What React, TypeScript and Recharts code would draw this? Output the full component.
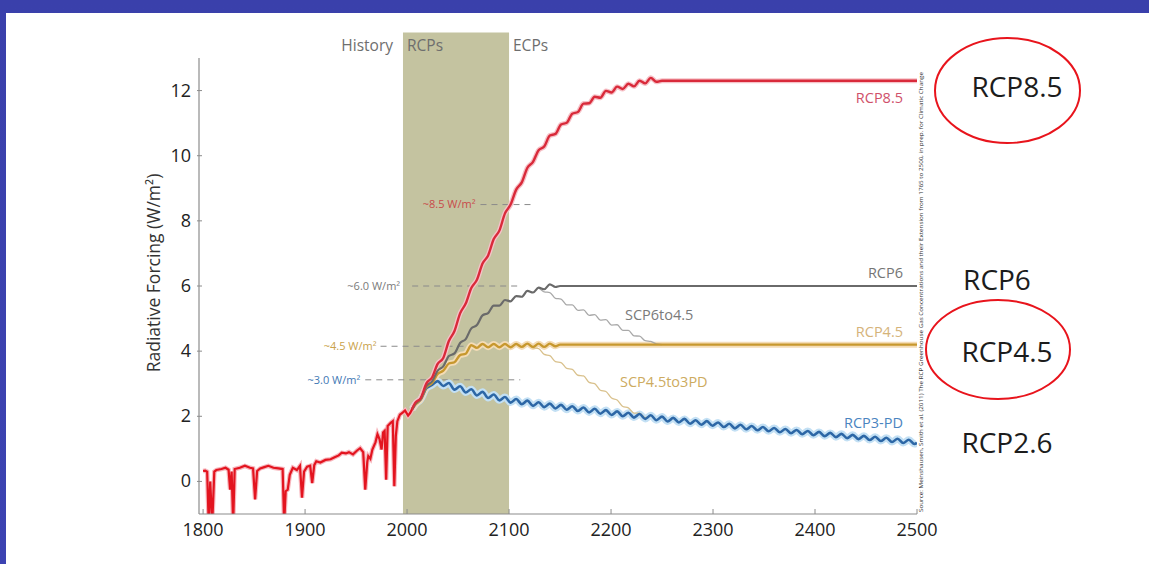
import React from "react";
import { LineChart, Line, XAxis, YAxis, ReferenceArea, ReferenceLine } from "recharts";

const X_TICKS = [1800, 1900, 2000, 2100, 2200, 2300, 2400, 2500];
const Y_TICKS = [0, 2, 4, 6, 8, 10, 12];

// historical forcing (volcanic dips)
const HIST_YEARS = [
  1800, 1802, 1804, 1805.5, 1807, 1809, 1811, 1813, 1818, 1822, 1825, 1826.5, 1828, 1829.5, 1831,
  1836, 1841, 1846, 1849, 1851, 1853, 1856, 1860, 1864, 1869, 1874, 1878, 1879.5, 1881, 1883,
  1885, 1888, 1892, 1895, 1897, 1899, 1902, 1905, 1907, 1909, 1911, 1915, 1920, 1925, 1929,
  1933, 1936, 1940, 1943, 1947, 1951, 1954, 1957, 1959, 1961, 1962, 1964, 1966, 1969, 1971,
  1973, 1975, 1976.5, 1978, 1979.5, 1981, 1984, 1986, 1987.5, 1989, 1990.5, 1993, 1996, 1998,
  2001, 2003, 2005,
];
const HIST_VALUES = [
  0.32, 0.33, 0.3, -1.3, 0.0, -1.3, 0.3, 0.35, 0.38, 0.42, 0.36, -0.25, 0.3, -1.3, 0.38,
  0.42, 0.48, 0.42, 0.4, -0.55, 0.32, 0.4, 0.44, 0.48, 0.42, 0.4, 0.38, -1.3, -0.3, -0.25,
  0.2, 0.42, 0.35, 0.48, -0.5, 0.3, 0.45, 0.48, -0.05, 0.5, 0.62, 0.58, 0.66, 0.68, 0.74,
  0.8, 0.88, 0.86, 0.9, 0.83, 0.95, 1.02, 0.9, -0.25, 0.6, 0.78, 0.7, 0.98, 1.2, 1.45,
  1.3, 0.98, 1.5, 1.55, 0.05, 1.7, 1.8, 1.85, -0.15, 1.4, 1.85, 2.05, 2.12, 2.18,
  2.02, 2.1, 2.22,
];

// half solar-cycle sample years used by the scenario curves
const CYCLE_YEARS = [
  2008, 2013.5, 2019, 2024.5, 2030, 2035.5, 2041, 2046.5, 2052, 2057.5,
  2063, 2068.5, 2074, 2079.5, 2085, 2090.5, 2096, 2101.5, 2107, 2112.5,
  2118, 2123.5, 2129, 2134.5, 2140, 2145.5, 2151, 2156.5, 2162, 2167.5,
  2173, 2178.5, 2184, 2189.5, 2195, 2200.5, 2206, 2211.5, 2217, 2222.5,
  2228, 2233.5, 2239, 2244.5, 2250, 2255.5, 2261, 2266.5, 2272, 2277.5,
  2283, 2288.5, 2294, 2299.5, 2305, 2310.5, 2316, 2321.5, 2327, 2332.5,
  2338, 2343.5, 2349, 2354.5, 2360, 2365.5, 2371, 2376.5, 2382, 2387.5,
  2393, 2398.5, 2404, 2409.5, 2415, 2420.5, 2426, 2431.5, 2437, 2442.5,
  2448, 2453.5, 2459, 2464.5, 2470, 2475.5, 2481, 2486.5, 2492, 2497.5,
];

const RCP85_YEARS = [2005, ...CYCLE_YEARS.slice(0, 45), 2500];
const RCP85_VALUES = [
  2.22,
  2.41, 2.56, 3.01, 3.19, 3.61, 3.79, 4.31, 4.62, 5.16, 5.46,
  5.94, 6.19, 6.69, 6.94, 7.44, 7.7, 8.23, 8.5, 8.96, 9.18,
  9.63, 9.81, 10.17, 10.28, 10.62, 10.67, 10.96, 11.01, 11.29, 11.34,
  11.6, 11.61, 11.81, 11.78, 11.99, 11.94, 12.12, 12.05, 12.21, 12.13,
  12.3, 12.22, 12.39, 12.27, 12.3,
  12.3,
];

const RCP6_YEARS = [2005, ...CYCLE_YEARS.slice(0, 26), 2150, 2500];
const RCP6_VALUES = [
  2.22,
  2.38, 2.55, 2.93, 3.07, 3.4, 3.53, 3.85, 3.93, 4.25, 4.37,
  4.7, 4.8, 5.1, 5.17, 5.4, 5.4, 5.57, 5.53, 5.69, 5.67,
  5.85, 5.8, 5.95, 5.9, 6.05, 5.97,
  6.0, 6.0,
];

const RCP45_YEARS = [2005, ...CYCLE_YEARS.slice(0, 26), 2150, 2500];
const RCP45_VALUES = [
  2.22,
  2.36, 2.53, 2.9, 3.02, 3.3, 3.4, 3.62, 3.66, 3.88, 3.92,
  4.18, 4.1, 4.22, 4.12, 4.22, 4.12, 4.22, 4.12, 4.22, 4.13,
  4.23, 4.13, 4.23, 4.13, 4.23, 4.15,
  4.2, 4.2,
];

const RCP3PD_YEARS = [2005, ...CYCLE_YEARS, 2500];
const RCP3PD_VALUES = [
  2.22,
  2.36, 2.52, 2.86, 2.96, 3.08,
  2.93, 3.02, 2.82, 2.92, 2.73, 2.83, 2.64, 2.75, 2.56, 2.67,
  2.49, 2.59, 2.42, 2.53, 2.37, 2.48, 2.32, 2.43, 2.28, 2.39,
  2.24, 2.35, 2.2, 2.31, 2.16, 2.27, 2.12, 2.23, 2.08, 2.19,
  2.04, 2.15, 2.0, 2.11, 1.96, 2.07, 1.92, 2.03, 1.88, 1.99,
  1.84, 1.95, 1.81, 1.92, 1.77, 1.88, 1.74, 1.85, 1.71,
  1.81, 1.67, 1.77, 1.63, 1.74, 1.6, 1.7, 1.57, 1.67, 1.54,
  1.64, 1.51, 1.61, 1.48, 1.58, 1.45, 1.55, 1.42, 1.52, 1.39,
  1.49, 1.36, 1.46, 1.33, 1.43, 1.3, 1.4, 1.27, 1.37, 1.24,
  1.34, 1.21, 1.31, 1.18, 1.28, 1.15,
  1.18,
];

const SCP6TO45_YEARS = CYCLE_YEARS.slice(22, 45);
const SCP6TO45_VALUES = [
  5.95, 5.82, 5.8, 5.62, 5.6, 5.42, 5.42, 5.25, 5.27, 5.1,
  5.12, 4.95, 4.97, 4.8, 4.81, 4.64, 4.64, 4.47, 4.46, 4.32,
  4.3, 4.22, 4.2,
];

const SCP45TO3PD_YEARS = CYCLE_YEARS.slice(20, 43);
const SCP45TO3PD_VALUES = [
  4.23, 4.1, 4.08, 3.9, 3.86, 3.68, 3.65, 3.47, 3.44, 3.26,
  3.24, 3.04, 3.0, 2.8, 2.76, 2.56, 2.5, 2.3, 2.26, 2.1,
  2.1, 1.96, 2.02,
];

const zip = (years: number[], values: number[]) =>
  years.map((year, i) => ({ year, v: values[i] }));

const hist = zip(HIST_YEARS, HIST_VALUES);
const rcp85 = zip(RCP85_YEARS, RCP85_VALUES);
const rcp6 = zip(RCP6_YEARS, RCP6_VALUES);
const rcp45 = zip(RCP45_YEARS, RCP45_VALUES);
const rcp3pd = zip(RCP3PD_YEARS, RCP3PD_VALUES);
const scp6to45 = zip(SCP6TO45_YEARS, SCP6TO45_VALUES);
const scp45to3pd = zip(SCP45TO3PD_YEARS, SCP45TO3PD_VALUES);

const FONT = "'Open Sans', 'DejaVu Sans', sans-serif";
const FRAME = "#8c8c8c";
const BAND = "#c4c3a0";

function BottomTick({ x, y, payload }: any) {
  const axisY = y - 8;
  return (
    <g>
      <line x1={x} x2={x} y1={axisY} y2={axisY - 5} stroke={FRAME} />
      <text x={x} y={axisY + 22} textAnchor="middle" fontSize={18} fill="#222" fontFamily={FONT}>
        {payload.value}
      </text>
    </g>
  );
}

function TopTick({ x, y }: any) {
  return <line x1={x} x2={x} y1={y} y2={y + 5} stroke={FRAME} />;
}

function LeftTick({ x, y, payload }: any) {
  const axisX = x + 6;
  return (
    <g>
      <line x1={axisX - 2} x2={axisX + 3} y1={y} y2={y} stroke={FRAME} />
      <text x={x - 2} y={y + 6} textAnchor="end" fontSize={18} fill="#222" fontFamily={FONT}>
        {payload.value}
      </text>
    </g>
  );
}

function RightTick({ x, y }: any) {
  return <line x1={x} x2={x - 5} y1={y} y2={y} stroke={FRAME} />;
}

const dash = (y: number, from: number, to: number, label: string, color: string, offset: number) => (
  <ReferenceLine
    segment={[
      { x: from, y },
      { x: to, y },
    ]}
    stroke="#8a8a8a"
    strokeWidth={1}
    strokeDasharray="6 5"
    label={{ value: label, position: "left", fill: color, fontSize: 11, offset, fontFamily: FONT }}
  />
);

export default function App() {
  return (
    <div
      style={{
        position: "absolute",
        left: 0,
        top: 0,
        width: 1149,
        height: 564,
        background: "linear-gradient(180deg, #3a40ab, #3c43b2)",
        overflow: "hidden",
        fontFamily: FONT,
      }}
    >
      <div style={{ position: "absolute", left: 6, top: 13, right: 0, bottom: 0, background: "#fff" }} />
      <div style={{ position: "absolute", left: 0, top: 0 }}>
        <LineChart
          width={1149}
          height={564}
          margin={{ top: 58, right: 232, bottom: 20, left: 139 }}
        >
          <ReferenceArea
            x1={1996}
            x2={2100}
            y1={-1}
            y2={13.78}
            fill={BAND}
            fillOpacity={1}
            stroke="none"
            ifOverflow="visible"
          />
          <XAxis
            dataKey="year"
            type="number"
            domain={[1796, 2500]}
            ticks={X_TICKS}
            interval={0}
            allowDataOverflow
            height={30}
            tickSize={0}
            tickMargin={8}
            tick={<BottomTick />}
            axisLine={{ stroke: FRAME, strokeWidth: 1.2 }}
          />
          <XAxis
            xAxisId="top"
            orientation="top"
            dataKey="year"
            type="number"
            domain={[1796, 2500]}
            ticks={X_TICKS}
            interval={0}
            allowDataOverflow
            height={0}
            tickSize={0}
            tickMargin={0}
            tick={<TopTick />}
            axisLine={{ stroke: FRAME, strokeWidth: 1.2 }}
          />
          <YAxis
            type="number"
            domain={[-1, 13]}
            ticks={Y_TICKS}
            interval={0}
            allowDataOverflow
            width={60}
            tickSize={0}
            tickMargin={6}
            tick={<LeftTick />}
            axisLine={{ stroke: FRAME, strokeWidth: 1.2 }}
          />
          <YAxis
            yAxisId="right"
            orientation="right"
            type="number"
            domain={[-1, 13]}
            ticks={Y_TICKS}
            interval={0}
            allowDataOverflow
            width={0}
            tickSize={0}
            tickMargin={0}
            tick={<RightTick />}
            axisLine={{ stroke: "#444", strokeWidth: 1.2 }}
          />

          {dash(8.5, 2072, 2124, "~8.5 W/m\u00b2", "#c84a4a", 5)}
          {dash(6.0, 2005, 2109, "~6.0 W/m\u00b2", "#7a7a7a", 12)}
          {dash(4.15, 1974, 2059, "~4.5 W/m\u00b2", "#c9a24a", 4)}
          {dash(3.12, 1959, 2111, "~3.0 W/m\u00b2", "#3f78b4", 5)}

          <Line data={rcp3pd} dataKey="v" type="monotone" stroke="#c3e0f4" strokeWidth={7} dot={false} activeDot={false} isAnimationActive={false} />
          <Line data={rcp45} dataKey="v" type="monotone" stroke="#f4dcb6" strokeWidth={6} dot={false} activeDot={false} isAnimationActive={false} />
          <Line data={rcp85} dataKey="v" type="monotone" stroke="#f6c2c8" strokeWidth={5} dot={false} activeDot={false} isAnimationActive={false} />
          <Line data={hist} dataKey="v" type="linear" stroke="#f7b6bd" strokeWidth={4.5} dot={false} activeDot={false} isAnimationActive={false} />

          <Line data={scp6to45} dataKey="v" type="monotone" stroke="#a9a9a9" strokeWidth={1.3} dot={false} activeDot={false} isAnimationActive={false} />
          <Line data={scp45to3pd} dataKey="v" type="monotone" stroke="#d9c18c" strokeWidth={1.3} dot={false} activeDot={false} isAnimationActive={false} />
          <Line data={rcp3pd} dataKey="v" type="monotone" stroke="#2d67a6" strokeWidth={2.6} dot={false} activeDot={false} isAnimationActive={false} />
          <Line data={rcp45} dataKey="v" type="monotone" stroke="#c7982e" strokeWidth={2.4} dot={false} activeDot={false} isAnimationActive={false} />
          <Line data={rcp6} dataKey="v" type="monotone" stroke="#6a6a6a" strokeWidth={2.2} dot={false} activeDot={false} isAnimationActive={false} />
          <Line data={hist} dataKey="v" type="linear" stroke="#e3141f" strokeWidth={2.2} dot={false} activeDot={false} isAnimationActive={false} />
          <Line data={rcp85} dataKey="v" type="monotone" stroke="#d92a3a" strokeWidth={2.4} dot={false} activeDot={false} isAnimationActive={false} />
        </LineChart>
      </div>

      <svg
        width={1149}
        height={564}
        style={{ position: "absolute", left: 0, top: 0, pointerEvents: "none" }}
        fontFamily={FONT}
      >
        <text x={393} y={51} textAnchor="end" fontSize={15.5} fill="#6e6e6e">History</text>
        <text x={407} y={51} fontSize={15.5} fill="#6e6e6e">RCPs</text>
        <text x={513} y={51} fontSize={15.5} fill="#6e6e6e">ECPs</text>

        <text x={155} y={273} transform="rotate(-90 155 273)" textAnchor="middle" dominantBaseline="middle" fontSize={17.5} fill="#333">
          Radiative Forcing (W/m²)
        </text>

        <text x={903} y={103} textAnchor="end" fontSize={14.5} fill="#d0506a">RCP8.5</text>
        <text x={903} y={278} textAnchor="end" fontSize={14.5} fill="#757575">RCP6</text>
        <text x={625} y={320} fontSize={14.5} fill="#7a7a7a">SCP6to4.5</text>
        <text x={903} y={337} textAnchor="end" fontSize={14.5} fill="#d5b37a">RCP4.5</text>
        <text x={620} y={387} fontSize={14.5} fill="#cdab60">SCP4.5to3PD</text>
        <text x={903} y={428} textAnchor="end" fontSize={14.5} fill="#4a84c0">RCP3-PD</text>

        <text
          x={923}
          y={512}
          transform="rotate(-90 923 512)"
          fontSize={5}
          fill="#333"
          textLength={440}
          lengthAdjust="spacingAndGlyphs"
        >
          Source: Meinshausen, Smith et al. (2011) The RCP Greenhouse Gas Concentrations and their Extension from 1765 to 2500, in prep. for Climatic Change
        </text>

        <text x={1017} y={97} textAnchor="middle" fontSize={28} fill="#1c1c1c">RCP8.5</text>
        <text x={997} y={290} textAnchor="middle" fontSize={28} fill="#1c1c1c">RCP6</text>
        <text x={1007} y={362} textAnchor="middle" fontSize={28} fill="#1c1c1c">RCP4.5</text>
        <text x={1007} y={453} textAnchor="middle" fontSize={28} fill="#1c1c1c">RCP2.6</text>

        <ellipse cx={1007.5} cy={90.5} rx={72.5} ry={52.5} fill="none" stroke="#e8141c" strokeWidth={2} />
        <ellipse cx={998} cy={349.5} rx={72} ry={49.5} fill="none" stroke="#e8141c" strokeWidth={2} />
      </svg>
    </div>
  );
}
